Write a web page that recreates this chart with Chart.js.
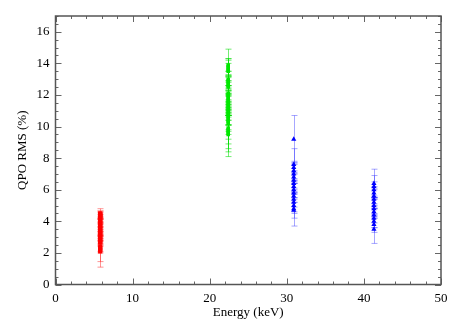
<!DOCTYPE html>
<html>
<head>
<meta charset="utf-8">
<script src="https://cdn.jsdelivr.net/npm/chart.js@4.4.1/dist/chart.umd.min.js"></script>
<style>
  html, body { margin: 0; padding: 0; background: #fff; }
  canvas { display: block; }
</style>
</head>
<body>
<canvas id="qpo" width="463" height="324"></canvas>
<script>
// energy bands (keV) and rms values with 1-sigma errors
var redEnergy = 5.8;
var redRms = [4.5, 4.45, 4.4, 4.35, 4.3, 4.2, 4.1, 4.0, 3.9, 3.8, 3.7, 3.6, 3.5, 3.4, 3.3, 3.2, 3.1, 3.0, 2.9, 2.8, 2.7, 2.65, 2.4, 2.3, 2.2, 2.1];
var redErr = [0.3, 0.2, 0.25, 0.2, 0.15, 0.2, 0.2, 0.15, 0.2, 0.15, 0.2, 0.2, 0.15, 0.2, 0.2, 0.15, 0.2, 0.2, 0.15, 0.2, 0.2, 0.15, 0.3, 0.85, 0.2, 1.0];

var greenEnergy = 22.4;
var greenRms = [13.9, 13.8, 13.7, 13.6, 13.5, 13.0, 12.9, 12.8, 12.7, 12.6, 12.5, 12.1, 12.0, 11.9, 11.8, 11.7, 11.6, 11.5, 11.4, 11.3, 11.2, 11.1, 11.0, 10.9, 10.8, 10.7, 10.6, 10.5, 10.4, 10.3, 10.2, 9.9, 9.8, 9.7, 9.6, 9.5];
var greenErr = [1.0, 0.5, 0.6, 0.4, 0.7, 0.5, 0.6, 0.4, 0.5, 0.6, 0.4, 0.5, 0.6, 0.7, 0.5, 0.6, 0.4, 0.5, 0.7, 0.6, 0.5, 0.4, 0.6, 0.5, 0.7, 0.6, 0.5, 0.4, 0.6, 0.8, 0.5, 0.7, 0.9, 1.1, 1.2, 1.4];

var blue1Energy = 30.9;
var blue1Rms = [9.2, 7.6, 7.4, 7.2, 7.0, 6.8, 6.6, 6.4, 6.2, 6.0, 5.8, 5.6, 5.4, 5.2, 5.0, 4.8, 4.7];
var blue1Err = [1.5, 1.0, 0.4, 0.5, 0.6, 0.4, 0.5, 0.6, 0.4, 0.5, 0.6, 0.4, 0.5, 0.6, 0.5, 0.6, 1.0];

var blue2Energy = 41.3;
var blue2Rms = [6.4, 6.2, 6.0, 5.8, 5.6, 5.4, 5.2, 5.0, 4.8, 4.6, 4.4, 4.2, 4.0, 3.8, 3.5];
var blue2Err = [0.9, 0.7, 0.5, 0.4, 0.5, 0.6, 0.4, 0.5, 0.6, 0.4, 0.5, 0.6, 0.4, 0.5, 0.9];

var xTicks = [0, 10, 20, 30, 40, 50];
var yTicks = [0, 2, 4, 6, 8, 10, 12, 14, 16];

function toPoints(x, ys, errs) {
    return ys.map(function (y, i) {
        return { x: x, y: y, err: errs[i] };
    });
}

function makeSet(label, x, ys, errs, color, barColor, style, radius) {
    return {
        label: label,
        data: toPoints(x, ys, errs),
        backgroundColor: color,
        borderColor: color,
        pointStyle: style,
        pointRadius: radius,
        pointBorderWidth: 0,
        errColor: barColor,
        showLine: false
    };
}

// error bars, drawn through the chart scales
var errorBars = {
    id: 'errorBars',
    beforeDatasetsDraw: function (chart) {
        var ctx = chart.ctx;
        var xs = chart.scales.x, ys = chart.scales.y;
        ctx.save();
        chart.data.datasets.forEach(function (ds) {
            ctx.strokeStyle = ds.errColor;
            ctx.lineWidth = 1;
            ds.data.forEach(function (p) {
                var px = Math.round(xs.getPixelForValue(p.x)) + 0.5;
                var top = ys.getPixelForValue(p.y + p.err);
                var bot = ys.getPixelForValue(p.y - p.err);
                ctx.beginPath();
                ctx.moveTo(px, top);
                ctx.lineTo(px, bot);
                ctx.moveTo(px - 3, top);
                ctx.lineTo(px + 3, top);
                ctx.moveTo(px - 3, bot);
                ctx.lineTo(px + 3, bot);
                ctx.stroke();
            });
        });
        ctx.restore();
    }
};

// frame with inward major/minor ticks on all four sides
var frame = {
    id: 'frame',
    afterDraw: function (chart) {
        var ctx = chart.ctx;
        var a = chart.chartArea;
        var xs = chart.scales.x, ys = chart.scales.y;
        ctx.save();
        ctx.strokeStyle = '#666';
        ctx.lineWidth = 1;
        var v, px, len;
        ctx.beginPath();
        for (v = 0; v <= 50; v += 2) {
            px = Math.round(xs.getPixelForValue(v)) + 0.5;
            len = (v % 10 === 0) ? 6 : 3;
            ctx.moveTo(px, a.bottom);
            ctx.lineTo(px, a.bottom - len);
            ctx.moveTo(px, a.top);
            ctx.lineTo(px, a.top + len);
        }
        for (v = 0; v <= 17; v += 0.5) {
            px = Math.round(ys.getPixelForValue(v)) + 0.5;
            len = (v % 2 === 0) ? 6 : 3;
            ctx.moveTo(a.left, px);
            ctx.lineTo(a.left + len, px);
            ctx.moveTo(a.right, px);
            ctx.lineTo(a.right - len, px);
        }
        ctx.stroke();
        ctx.lineWidth = 1.5;
        ctx.strokeStyle = '#555';
        ctx.strokeRect(a.left, a.top, a.right - a.left, a.bottom - a.top);
        ctx.restore();
    }
};

var ctx = document.getElementById('qpo').getContext('2d');
var chart = new Chart(ctx, {
    type: 'scatter',
    data: {
        datasets: [
            makeSet('5.8 keV', redEnergy, redRms, redErr, '#ff0000', 'rgba(255, 60, 60, 0.55)', 'rect', 3),
            makeSet('22.4 keV', greenEnergy, greenRms, greenErr, '#00e800', 'rgba(0, 220, 0, 0.55)', 'rect', 2.5),
            makeSet('30.9 keV', blue1Energy, blue1Rms, blue1Err, '#0000ff', 'rgba(60, 60, 255, 0.45)', 'triangle', 3),
            makeSet('41.3 keV', blue2Energy, blue2Rms, blue2Err, '#0000ff', 'rgba(60, 60, 255, 0.45)', 'triangle', 3)
        ]
    },
    options: {
        responsive: false,
        animation: false,
        devicePixelRatio: 1,
        layout: { padding: { top: 16, right: 22, left: 15, bottom: 4 } },
        plugins: {
            legend: { display: false },
            tooltip: { enabled: false }
        },
        scales: {
            x: {
                type: 'linear',
                min: 0,
                max: 50,
                afterBuildTicks: function (scale) {
                    scale.ticks = xTicks.map(function (v) { return { value: v }; });
                },
                afterFit: function (scale) { scale.height = 35.5; },
                grid: { display: true, drawOnChartArea: false, drawTicks: false },
                border: { display: false },
                ticks: {
                    autoSkip: false,
                    maxRotation: 0,
                    padding: 6,
                    color: '#000',
                    font: { family: 'Liberation Serif', size: 13 }
                },
                title: {
                    display: true,
                    text: 'Energy (keV)',
                    color: '#000',
                    padding: { top: 1, bottom: 0 },
                    font: { family: 'Liberation Serif', size: 13 }
                }
            },
            y: {
                type: 'linear',
                min: 0,
                max: 17,
                afterBuildTicks: function (scale) {
                    scale.ticks = yTicks.map(function (v) { return { value: v }; });
                },
                afterFit: function (scale) { scale.width = 40.5; },
                grid: { display: true, drawOnChartArea: false, drawTicks: false },
                border: { display: false },
                ticks: {
                    autoSkip: false,
                    padding: 6,
                    color: '#000',
                    font: { family: 'Liberation Serif', size: 13 }
                },
                title: {
                    display: true,
                    text: 'QPO RMS (%)',
                    color: '#000',
                    padding: { top: 0, bottom: 4 },
                    font: { family: 'Liberation Serif', size: 13 }
                }
            }
        }
    },
    plugins: [errorBars, frame]
});
</script>
</body>
</html>
